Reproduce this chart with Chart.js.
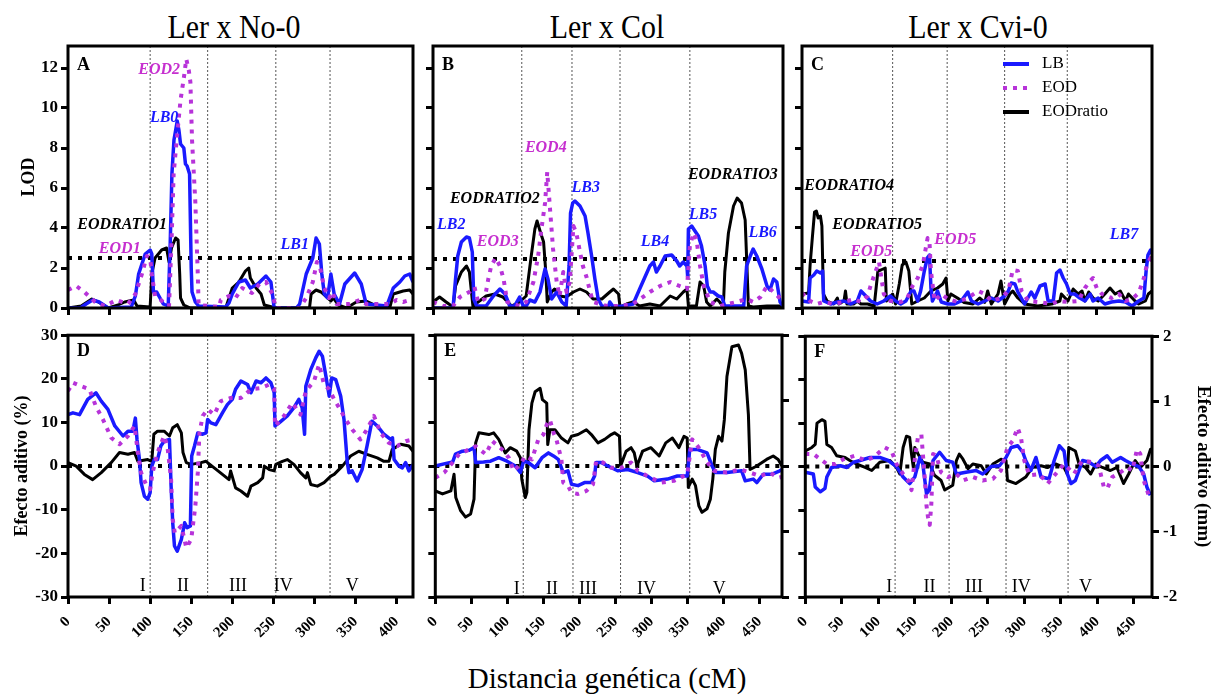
<!DOCTYPE html>
<html lang="es">
<head>
  <meta charset="UTF-8" />
  <title>QTL LOD y efecto aditivo</title>
  <script src="https://cdn.jsdelivr.net/npm/chart.js"></script>
  <style>
    body { margin: 0; background: #fff; }
    #wrap { position: relative; width: 1221px; height: 698px; background: #fff; overflow: hidden; }
    canvas { position: absolute; }
    .ttl { position: absolute; width: 400px; text-align: center; font-family: "Liberation Serif", serif; line-height: 1; color: #000; white-space: nowrap; }
    .col { top: 10px; font-size: 34px; transform: scaleX(0.88); }
  </style>
</head>
<body>
<div id="wrap">
  <div class="ttl col" style="left:34px">Ler x No-0</div>
  <div class="ttl col" style="left:407px">Ler x Col</div>
  <div class="ttl col" style="left:778px">Ler x Cvi-0</div>
  <div class="ttl" style="left:407px;top:664px;font-size:29px">Distancia genética (cM)</div>
  <canvas id="cA" width="421" height="322" style="left:0;top:0"></canvas>
  <canvas id="cB" width="370" height="322" style="left:421px;top:0"></canvas>
  <canvas id="cC" width="430" height="322" style="left:791px;top:0"></canvas>
  <canvas id="cD" width="421" height="376" style="left:0;top:322px"></canvas>
  <canvas id="cE" width="370" height="376" style="left:421px;top:322px"></canvas>
  <canvas id="cF" width="430" height="376" style="left:791px;top:322px"></canvas>
</div>

<script>
  // ---- data: [cM, value] ----
  // Ler x No-0, LOD
  const aLB = [[0,0],[15,0],[22,0.2],[30,0.4],[38,0.3],[49,0],[77,0.05],[82,0.6],[86,1.7],[94,2.7],[100,2.9],[102,2.7],[104,0.8],[108,0.8],[116,0.2],[122,0.1],[124.5,3.3],[126.5,6.7],[129,8.4],[133,9.35],[135,8.9],[137,8.2],[141,8],[143,7.2],[145,7.1],[148,6.7],[150,2],[151,0.8],[155,0.3],[159,0.1],[192,0.05],[196,0.25],[200,0.7],[208,1.3],[216,1.4],[222,1],[231,1.2],[241,1.6],[247,1.3],[251,0],[278,0],[282,0.2],[290,1.7],[298,2.5],[302,3.5],[306,3.2],[309,1.7],[312,0.7],[316,0.5],[320,1.7],[324,0.7],[330.5,0.2],[337,1.2],[349,1.75],[357,1.2],[363,0.2],[388,0.1],[396,1],[404,1.3],[410,1.6],[416,1.7],[420,1.3]];
  const aEOD = [[0,0.9],[10,1.1],[20,0.8],[33,0.3],[45,0.1],[59,0.4],[73,0.2],[82,0.7],[90,1.7],[96,2.6],[100,2.5],[102,1.7],[106,0.6],[118,0.25],[123,0.1],[126,3.3],[128.6,6.7],[133,8.7],[137,10.4],[141,11.5],[144,12.45],[147,11.9],[149,11.3],[151,8.4],[155,5.3],[158,1.7],[159,0.15],[184,0.05],[186,0.4],[196,0.6],[204,0.5],[212,1],[224,0.75],[233,1.2],[241,1.3],[249,0.7],[253,0],[282,0],[290,0.5],[298,1.3],[303,2.3],[307,2],[312,1],[318,0.5],[322,0.8],[327,0.2],[343,0.2],[355,0.4],[363,0.2],[392,0.2],[400,0.4],[408,0.3],[416,0.4],[420,0.35]];
  const aRatio = [[0,0],[16,0.1],[29,0.45],[37,0.3],[49,0],[61,0.15],[69,0.3],[80,0.4],[84,0.1],[100,0.05],[101,0.05],[102,1.7],[106,2.5],[114,2.9],[120,3.0],[123,2.3],[126,3.0],[131,3.5],[134,3.4],[136,1.7],[137,0.5],[141,0.15],[149,0],[192,0],[196,0.5],[200,1],[208,1.3],[216,1.85],[220,2.0],[222,1.5],[229,1],[235,0.7],[239,0.15],[253,0],[294,0],[296,0.7],[302,0.9],[308,0.8],[316,0.5],[320,0.35],[323,0.5],[329,0.15],[339,0],[351,0.3],[363,0.35],[376,0.1],[392,0.05],[396,0.7],[408,0.85],[416,0.9],[420,0.7]];

  // Ler x Col, LOD
  const bLB = [[0,0],[27.5,0],[31,1.45],[34,2.6],[39,3.3],[46,3.55],[50,3.5],[54,2.8],[56,0.45],[60,0.1],[73,0.1],[83,0.6],[92,0.95],[99,0.7],[105.5,0.1],[112,0.1],[119,0.55],[124,0.1],[128,0.1],[133,0.4],[140,0.3],[147,0.8],[154,1.95],[158,1.45],[163,0.45],[170,0.8],[177,0.3],[183,0.1],[187,2.1],[189,4.75],[192,5.25],[195,5.35],[202,5.1],[209,4.6],[213,3.75],[218,2.6],[222.5,1.45],[227,0.45],[232,0.1],[241,0.05],[243,0.3],[248,0.05],[261,0.1],[275,0.2],[284,0.95],[298,2.1],[303,2.3],[307,1.8],[312,2.1],[319,2.6],[328,2.65],[335,2.35],[339,2.1],[344,2.3],[349,2.1],[350,1.55],[351,3.95],[355.5,4.1],[360,3.85],[364.7,3.6],[369,3.1],[374,2.1],[377,1.1],[381,0.8],[385,0.8],[392,0.6],[397,0.55],[401,0.1],[427,0.1],[431,2.1],[436,2.6],[440,2.95],[445,2.6],[452,1.95],[459,1.1],[463,0.9],[468,1.45],[472.5,1.3],[477,0.3],[481,0.1]];
  const bEOD = [[0,0.3],[14,0.1],[27.5,0.1],[37,0.55],[50,0.8],[57,1.05],[62,0.3],[71,0.45],[76,1.45],[80,2.1],[86,2.5],[92,2.1],[97,1.45],[102,0.3],[119,0.1],[128,0.3],[138,1.3],[144.5,2.6],[149,3.95],[154,5.25],[157,6.8],[160.5,5.1],[165,2.95],[170,1.3],[174,0.6],[179,1.8],[183.5,0.8],[188,1.3],[193,4.1],[197,3.75],[202,2.8],[206,2.1],[211,1.55],[216,0.8],[220,0.3],[239,0.1],[257,0.1],[275,0.2],[298,0.8],[312,1.1],[326,1.3],[339,1.1],[349,0.95],[353,3.1],[358,3.75],[362,3.45],[367,2.1],[372,1.1],[381,0.3],[394,0.1],[417,0.3],[431,0.45],[440,0.3],[450,0.55],[459,1.1],[468,0.8],[475,0.55],[481,0.4]];
  const bRatio = [[0,0.3],[9,0.55],[18,0.3],[27.5,0.05],[31,1.1],[39,1.8],[46,2.1],[50,1.8],[55,0.05],[62,0.3],[73,0.6],[85,0.7],[96,0.55],[108,0.1],[119,0.3],[128,0.6],[135,2.6],[140,3.95],[143,4.35],[148,3.75],[152,3.3],[155,1.8],[157,0.3],[163,0.8],[167,0.95],[174,0.6],[183,0.55],[193,0.8],[202,0.95],[211,0.8],[220,0.45],[232,0.45],[243,0.8],[248,0.95],[255,0.7],[257,0.05],[266,0.2],[275,0.3],[284,0.1],[298,0.2],[312,0.1],[326,0.6],[335,0.45],[344,0.8],[349,0.95],[351,0.1],[362,0.1],[367,1.3],[372,1.1],[376,0.3],[381,0.1],[390,0.45],[394,0.3],[399,0.05],[401,1.8],[406,3.75],[413,5.1],[418,5.5],[424,5.25],[429,4.4],[433.5,0.1],[440,0.05],[459,0.1],[481,0.1]];

  // Ler x Cvi-0, LOD
  const cLB = [[0,0.35],[9,0.3],[11,1.5],[16,1.65],[20,1.85],[25,1.75],[28,1.85],[29.5,0.35],[39,0.2],[48,0.3],[57,0.35],[66,0.2],[75,0.35],[80,0.85],[84,0.7],[93,0.35],[102,0.2],[111,0.35],[120,0.6],[127,0.35],[134,0.2],[141,0.35],[148,0.85],[152,0.85],[157,0.35],[161,0.85],[166,1.85],[170,2.5],[173,2.65],[175,1.0],[177,0.35],[184,0.85],[189,0.3],[198,0.2],[207,0.2],[216,0.35],[225,0.8],[230,0.35],[239,0.2],[248,0.35],[257,0.5],[266,0.35],[275,0.6],[280,0.85],[284,1.25],[289,1.2],[293,0.8],[302,0.2],[311,0.8],[316,0.5],[323,1.1],[330,1.2],[334,0.35],[341,0.35],[345.5,1.75],[350,1.9],[354.5,1.5],[359,1.2],[364,0.7],[370,0.7],[377,0.5],[384,0.35],[391,0.7],[395,0.35],[402,0.5],[411,0.2],[420,0.3],[430,0.35],[439,0.3],[448,0.1],[457,0.35],[464,0.5],[467,1.85],[469.5,2.65],[473,2.9],[475,2.7]];
  const cEOD = [[0,0.75],[11,0.35],[20,0.2],[29.5,0.3],[43,0.2],[57,0.3],[70,0.45],[80,0.3],[89,0.6],[93,1.1],[100,1.85],[104.5,2.3],[111,0.7],[120,0.35],[134,0.3],[143,0.5],[150,1.1],[157,1.5],[164,2.15],[168,3.0],[170.5,3.5],[173,3.3],[175,1.85],[180,0.35],[189,0.7],[198,0.45],[211,0.3],[225,0.5],[239,0.85],[248,0.7],[257,0.35],[270,0.5],[280,0.85],[286,1.9],[293,1.85],[298,0.85],[307,0.35],[320,0.3],[339,0.2],[348,0.35],[361,0.3],[375,0.35],[384,1.0],[391,1.35],[395,1.5],[400,1.0],[407,0.7],[420,0.5],[430,0.7],[439,0.35],[448,0.45],[457,0.75],[464,1.5],[468,2.15],[473,2.5],[475,2.4]];
  const cRatio = [[0,0.7],[9,0.75],[11,2.15],[14,3.5],[17,4.8],[19.5,4.85],[22,4.5],[25,4.6],[27,4.1],[29,0.7],[34,0.35],[43,0.2],[48,0.5],[50,0.2],[57,0.35],[59,0.85],[61,0.2],[70,0.2],[75,0.35],[80,0.2],[89,0.2],[98,0.1],[103,1.85],[107,1.9],[113,2.0],[114.5,0.35],[118,0.5],[123,0.7],[127,0.2],[132,1.2],[136,2.15],[141,2.3],[145,1.85],[149,0.2],[157,0.35],[166,0.5],[175,0.85],[184,1.0],[191,1.2],[195.5,1.5],[198,0.35],[202,0.7],[211,0.5],[220,0.28],[232,0.2],[241,0.5],[248,0.28],[252,0.85],[257,0.2],[266,0.7],[270,1.35],[275,0.2],[282,0.7],[286,0.85],[293,0.5],[302,0.2],[320,0.1],[339,0.2],[350,0.35],[352,0.7],[361,0.35],[368,0.95],[375,0.7],[380,0.85],[384,0.35],[389,0.8],[395,0.5],[402,0.35],[411,0.7],[418,1.0],[425,0.7],[432,0.85],[439,0.35],[443,0.7],[452,0.35],[457,0.2],[466,0.35],[470,0.7],[475,0.85]];

  // Ler x No-0, efecto aditivo
  const dLB = [[0,11.8],[6,12.2],[14,11.8],[24,15.3],[34,16.8],[40.5,14.9],[48.6,13],[57,9.2],[67,6.9],[73,8],[79,8],[82,11],[84,6.1],[87,1.5],[89,-3.8],[93,-6.9],[97,-7.6],[100,-6.1],[102,0],[105,1.5],[109,1.5],[113,4.6],[117,5.7],[123.5,6.1],[125.5,-4.6],[127.5,-13],[129.6,-18.3],[133,-19.5],[138,-16.8],[142,-13],[145,-14.1],[149,-13.7],[150.6,2.3],[154,4.6],[158,7.6],[164,7.3],[168,7.6],[170,10.7],[174,9.9],[180,9.5],[188,12.2],[194,14.1],[200,15.3],[204,17.6],[210.5,19.5],[218.6,18.7],[222.7,16.8],[229,19.5],[235,19.1],[241,20.2],[247,19.1],[251,16.8],[252,9.2],[257,9.9],[267,11.5],[275,13.4],[281,15.3],[285,13.4],[288,7.3],[289.5,18.3],[295.5,22.1],[301.6,24.8],[305.7,26.3],[309.7,25.2],[314,20.6],[318,16],[321,20.2],[326,19.8],[332,16],[336,10.7],[340,0.8],[342,-1.5],[346,-1.1],[352,-3.4],[358,-0.8],[364,4.6],[370,10.3],[376.5,9.2],[384.6,7.3],[392.7,6.1],[395,6.5],[397,1.5],[403,0],[407,-0.4],[411,0.8],[415,-1.1],[420,0.4]];
  const dEOD = [[0,17.2],[6,19.1],[16,18.3],[26,17.6],[34,13.7],[42.5,10.7],[52.6,6.5],[62.7,5],[73,6.9],[81,9.2],[85,3.1],[89,-1.5],[95,-4.2],[100,-5.3],[103,-1.5],[109,3.1],[117,6.9],[121,4.6],[125.5,-3],[127.5,-12.2],[130,-15.3],[138,-13.7],[144,-18.7],[150,-16.8],[153,-12.2],[155,-9.2],[158,-1.5],[160,7.6],[164,11.5],[170,13],[178,11.8],[186,14.9],[198,15.6],[210.5,15.6],[222.7,17.6],[235,17.9],[245,18.7],[251,17.6],[252,9.2],[263,11.5],[273,14.5],[283,11.8],[289.5,17.2],[299.6,19.5],[305.7,23.3],[311.7,18.7],[318,17.6],[324,15.3],[330,13.4],[338,10.7],[346,8.4],[356,6.1],[364,8.4],[372.5,11.5],[380.6,7.6],[390.7,5.3],[400.8,4.6],[411,5.7],[420,6.1]];
  const dRatio = [[0,0.8],[10,0],[20,-1.9],[30,-3.1],[40.5,-1.5],[52.6,0.8],[62.7,3.1],[73,2.7],[81,3.1],[85,1.1],[97,1.5],[102,1.1],[104.5,7.3],[109,8],[117,8],[123.5,6.9],[127.5,8.8],[133,9.5],[138,7.6],[140,3.1],[144,0.8],[150,0.4],[162,0.8],[168,1.1],[178,-0.4],[188,-1.9],[196,-3.1],[198,-1.1],[204,-5],[210.5,-5.7],[218.6,-6.9],[222.7,-4.6],[231,-3.8],[237,-2.7],[239,0],[245,-0.8],[251,-1.1],[253,0.4],[261,1.1],[267,1.5],[275,0.4],[283,-1.5],[289.5,-2.7],[291.5,-1.5],[295.5,-4.2],[303.6,-4.6],[311.7,-3.8],[320,-2.3],[324,-1.9],[334,0],[344,2.3],[354,3.4],[364,2.7],[376.5,1.9],[384.6,1.1],[390.7,1.1],[394.7,3.8],[405,5],[415,4.6],[420,3.4]];

  // Ler x Col, efecto aditivo
  const eLB = [[0,0],[15,0.6],[24,0.9],[28,2.7],[37.6,3.4],[47,3.6],[53.7,4.2],[56,0.8],[67,0.9],[76.6,1.1],[88,1.9],[99.5,1.1],[111,0],[118,-1.5],[122.5,1.1],[129,0.8],[138.5,-0.4],[148,1.9],[157,3],[164,2.3],[170.6,1.5],[177.5,-1.5],[184,-1.1],[189,-4.2],[198,-4.5],[207,-3.8],[216.5,-3.8],[221,-2.3],[223,0.8],[230,0.8],[239.4,0],[253,-1.1],[267,-0.8],[280.7,-1.5],[294.5,-2.3],[303.7,-3.4],[322,-3],[335.8,-2.3],[349.5,-2.3],[353,3.8],[363.3,3.8],[377,3],[384,0],[388.5,-1.5],[404.6,-1.5],[425,-1.1],[430,-3.4],[441,-3],[446,-3.8],[455,-1.9],[466.5,-1.9],[478,-1.1],[481,-0.8]];
  const eEOD = [[0,-2.7],[12.4,-1.5],[24,0.8],[33,2.7],[47,3.8],[56,4.5],[70,2.7],[79,5.7],[92.7,3.8],[102,1.9],[108.7,-1.1],[118,0.4],[124.8,2.3],[134,1.5],[143,6.1],[150,7.2],[154.6,9.5],[159,10.6],[164,7.6],[168,6.1],[175,1.5],[177.5,-3.8],[184,-4.5],[189,-6.1],[198,-6.4],[209.6,-5.7],[218.8,-4.2],[223,1.1],[232.6,0.8],[244,-0.4],[257.8,-0.4],[271.6,0.8],[280.7,-1.1],[294.5,-2.3],[312.8,-3.8],[331,-3.4],[349.5,-1.9],[356.4,6.1],[365.6,4.2],[374.8,1.5],[386,-1.1],[404.6,-1.5],[423,-0.8],[436.7,-1.5],[450.5,-2.3],[464,-1.5],[475.7,-2.7],[481,-2.5]];
  const eRatio = [[0,-5.7],[10,-6.4],[21.6,-5.7],[26,-1.9],[28.4,-7.2],[35,-10.2],[42,-11.7],[49,-11],[53.7,-7.6],[56,5.3],[60.5,7.6],[74.3,7.2],[81,7.6],[88,6.1],[97,3],[104,4.2],[113,3.4],[118,1.9],[120,-3],[124.8,-7.2],[127,-6.1],[130,8.3],[134,14.4],[138.5,17],[145.4,17.8],[148.6,15.2],[154.6,14.4],[156,4.9],[159,8.3],[166,8.3],[175,6.4],[184,5.3],[189,6.8],[198,7.2],[209.6,8.3],[216.5,7.2],[225.7,5.3],[234.9,6.1],[244,7.2],[248.6,7.6],[255.5,6.8],[257,0],[264.7,3.4],[271.6,4.2],[276,3],[279.8,0],[287.6,3.4],[299,4.2],[310.6,2.3],[319.7,5.3],[329,6.4],[338,4.2],[345,6.8],[349.5,6.4],[351,-4.9],[356.4,-3],[361,-4.5],[365.6,-9.1],[370,-10.6],[377,-9.8],[381.6,-7.6],[385,-3],[388.5,3.8],[393,6.8],[397.7,5.7],[401,10.6],[404.6,20.5],[411.5,27.3],[420.6,27.7],[425,25.8],[430,22],[434.4,11.7],[436.7,-0.8],[446,0],[459.6,1.5],[468.8,2.3],[475.7,1.5],[481,0]];

  // Ler x Cvi-0, efecto aditivo
  const fLB = [[0,-1.3],[11,-1.7],[13.6,-4.7],[20.5,-5.8],[27,-5],[29.5,-2.4],[36,-0.2],[48,0.2],[57,-0.2],[66,1],[75,1.4],[88.6,2.1],[102,2.1],[113.6,1.4],[125,0],[134,-2.4],[143,-3.9],[150,-2.4],[157,2.1],[161,0.6],[166,-6.2],[170,-5.4],[175,1.4],[184,3.3],[193,1.4],[202,1],[207,-1.7],[220,-1.3],[234,-0.9],[243,-1.7],[254.5,0],[266,0.2],[275,2.1],[282,4.4],[291,4.8],[298,3.3],[302,1.4],[309,-0.9],[316,2.1],[323,-2.4],[334,-2.8],[341,1.4],[348,4.8],[354.5,3.6],[359,-1.7],[364,-3.9],[370,-3.2],[380,1.4],[389,1],[398,0],[404.5,1.4],[413.6,2.5],[420.5,1],[432,2.1],[438.6,1.4],[447.7,0.6],[457,0],[463.6,-1.7],[468,-4.7],[472.7,-6.6]];
  const fEOD = [[0,2.9],[11,2.9],[29.5,0.6],[41,0.6],[52,1.7],[68,2.5],[82,1.4],[93,2.1],[109,4.4],[118,3.6],[125,0.6],[134,-1.7],[141,-3.2],[145.5,-5.4],[150,1.7],[154.5,7],[159,7.4],[163.6,-2.4],[166,-8.9],[168,-11.5],[170.5,-13.4],[172.7,-8.5],[175,2.9],[179.5,2.5],[186,-1.3],[195.5,-2.4],[207,-1.7],[216,-3.2],[229.5,-2.4],[243,-3.2],[257,-2.8],[268,-0.9],[277,4.4],[284,5.9],[291,8.9],[295.5,6.7],[300,1.4],[307,-2],[320.5,-1.7],[332,-3.9],[343,-1.7],[354.5,0.6],[368,-1.7],[379.5,1.4],[393,1],[402,0.2],[409,-4.7],[413.6,-5.1],[420.5,-2.4],[432,-1.3],[441,-0.2],[448,-0.9],[454.5,4],[459,2.9],[463.6,-3.2],[470.5,-6.6]];
  const fRatio = [[0,3.6],[9,4.4],[13.6,5.1],[16,10],[22.7,10.8],[27,10.4],[29.5,5.1],[36,4.4],[43,2.5],[54.5,2.1],[61,1.4],[70,0.6],[82,-0.2],[91,-0.9],[102,1],[116,1.4],[125,-0.2],[129.5,-1.7],[134,4.4],[138.6,7],[143,6.7],[145.5,2.9],[148,-0.2],[150,4.4],[154.5,2.9],[161,1],[170.5,0.6],[177,-2],[186,-3.2],[191,-5.4],[198,-4.7],[202,-4.3],[207,1.4],[211,2.9],[216,1.7],[223,-0.5],[229.5,0.6],[241,0.2],[248,-1.7],[257,0.6],[268,1.7],[275,1.4],[277,-3.2],[288.6,-3.9],[302,-2.4],[311,-0.2],[323,0.2],[332,-0.2],[343,0.6],[354.5,-0.2],[359,-1.7],[361,4.4],[370,3.6],[375,0.6],[384,-0.2],[391,-1.7],[398,0.6],[407,-0.2],[418,-0.9],[427,-0.2],[436,-3.9],[443,-1.7],[452,1.4],[459,-0.2],[468,1.4],[473,4],[475,4]];

  // tick values
  const xTicksA = [0, 50, 100, 150, 200, 250, 300, 350, 400];
  const xTicksBC = [0, 50, 100, 150, 200, 250, 300, 350, 400, 450];
  const yTicksLOD = [0, 2, 4, 6, 8, 10, 12];
  const yTicksEff = [-30, -20, -10, 0, 10, 20, 30];
  const yTicksMm = [-2, -1, 0, 1, 2];

  // chromosome limits (cM), LOD thresholds, map lengths
  const chromA = [100, 170, 253, 319];
  const chromB = [122, 191, 257, 353];
  const chromC = [123, 197, 275, 360];
  const thresholds = [2.5, 2.45, 2.35];
  const mapLen = [420, 481, 475];
  const chromNames = ["I", "II", "III", "IV", "V"];
  const romanA = [91, 140, 207, 262, 346];
  const romanB = [113, 162, 212, 293, 394];
  const romanC = [115, 170, 231, 296, 384];

  // QTL labels: [text, cM, LOD, series]
  const notesA = [["EOD2",111,11.9,"eod"],["LB0",117,9.5,"lb"],["EODRATIO1",66,4.15,"ratio"],["EOD1",63,2.95,"eod"],["LB1",276,3.15,"lb"]];
  const notesB = [["LB2",25,4.15,"lb"],["EOD3",89,3.3,"eod"],["EODRATIO2",85,5.45,"ratio"],["EOD4",155,8.0,"eod"],["LB3",210,6.0,"lb"],["LB4",305,3.3,"lb"],["EODRATIO3",412,6.65,"ratio"],["LB5",371,4.65,"lb"],["LB6",453,3.75,"lb"]];
  const notesC = [["EODRATIO4",64,6.1,"ratio"],["EODRATIO5",102,4.15,"ratio"],["EOD5",94,2.8,"eod"],["EOD5",208,3.4,"eod"],["LB7",437,3.65,"lb"]];

  const FONT = '"Liberation Serif", "Times New Roman", serif';
  const BLUE = "#1a1aff", PURPLE = "#b733d9", BLACK = "#000";
  const TXT = { lb: "#1a1aff", eod: "#c62fcf", ratio: "#000" };

  Chart.defaults.font.family = FONT;
  Chart.defaults.color = "#000";
  Chart.defaults.animation = false;

  const pts = a => a.map(p => ({ x: p[0], y: p[1] }));
  const asTicks = vals => vals.map(v => ({ value: v }));

  const deco = {
    id: "deco",
    afterDatasetsDraw(chart, args, o) {
      const { ctx, chartArea: a } = chart;
      const x = chart.scales.x, y = chart.scales.y;
      ctx.save();
      ctx.strokeStyle = "#000";
      ctx.lineWidth = 3;
      ctx.strokeRect(a.left, a.top, a.right - a.left, a.bottom - a.top);

      ctx.fillStyle = "#000";
      ctx.textBaseline = "middle";
      ctx.textAlign = "left";
      ctx.font = "bold 18px " + FONT;
      ctx.fillText(o.letter, a.left + 9, a.top + o.letterDy);

      ctx.textAlign = "center";
      ctx.font = "bold italic 16px " + FONT;
      (o.notes || []).forEach(n => {
        ctx.fillStyle = TXT[n[3]];
        ctx.fillText(n[0], x.getPixelForValue(n[1]), y.getPixelForValue(n[2]));
      });

      ctx.fillStyle = "#000";
      ctx.font = "18px " + FONT;
      ctx.textBaseline = "alphabetic";
      (o.romans || []).forEach((v, i) => {
        ctx.fillText(chromNames[i], x.getPixelForValue(v), y.getPixelForValue(o.romanY));
      });

      if (o.legend) {
        const items = [["LB", BLUE, [], 4], ["EOD", PURPLE, [4, 6], 4], ["EODratio", BLACK, [], 4]];
        items.forEach((it, i) => {
          const yy = a.top + 18 + i * 24;
          ctx.beginPath();
          ctx.setLineDash(it[2]);
          ctx.lineWidth = it[3];
          ctx.strokeStyle = it[1];
          ctx.moveTo(a.left + 201, yy);
          ctx.lineTo(a.left + 227, yy);
          ctx.stroke();
          ctx.setLineDash([]);
          ctx.fillStyle = "#000";
          ctx.font = "17px " + FONT;
          ctx.textAlign = "left";
          ctx.textBaseline = "middle";
          ctx.fillText(it[0], a.left + 240, yy);
        });
      }
      ctx.restore();
    }
  };

  function panel(id, o) {
    const ds = [];
    o.chrom.forEach(v => ds.push({
      data: [{ x: v, y: o.ymin }, { x: v, y: o.ymax }],
      borderColor: "#555", borderWidth: 1, borderDash: [2, 2], order: 6
    }));
    ds.push({
      data: [{ x: 0, y: o.base }, { x: o.xmax, y: o.base }],
      borderColor: "#000", borderWidth: 4, borderDash: [4, 6], order: 5
    });
    ds.push({ label: "EODratio", data: pts(o.ratio), borderColor: BLACK, borderWidth: 3, order: 3 });
    ds.push({ label: "LB", data: pts(o.lb), borderColor: BLUE, borderWidth: 3.5, order: 2 });
    ds.push({ label: "EOD", data: pts(o.eod), borderColor: PURPLE, borderWidth: 4, borderDash: [4, 6], borderCapStyle: "butt", order: 1 });

    const tickGrid = { drawOnChartArea: false, color: "#000", lineWidth: 3, tickLength: 7 };
    const scales = {
      x: {
        type: "linear", min: 0, max: o.xmax,
        border: { display: false },
        grid: tickGrid,
        ticks: { display: o.xlabels, autoSkip: false, minRotation: 45, maxRotation: 45, padding: 9,
                 font: { size: 15, weight: "bold" } },
        afterBuildTicks: s => { s.ticks = asTicks(o.xticks); },
        afterFit: s => { s.height = o.xh; }
      },
      y: {
        type: "linear", min: o.ymin, max: o.ymax,
        border: { display: false },
        grid: tickGrid,
        ticks: { display: !!o.ytitle, padding: 3, font: { size: 17, weight: "bold" } },
        afterBuildTicks: s => { s.ticks = asTicks(o.yticks); },
        afterFit: s => { s.width = o.yw; },
        title: { display: !!o.ytitle, text: o.ytitle || "", font: { size: 18, weight: "bold" }, padding: { top: o.ytpad || 0 } }
      }
    };
    if (o.mm) {
      scales.y2 = {
        type: "linear", position: "right", min: -2, max: 2,
        border: { display: false },
        grid: tickGrid,
        ticks: { display: o.mm.labels, padding: 4, font: { size: 17, weight: "bold" } },
        afterBuildTicks: s => { s.ticks = asTicks(yTicksMm); },
        afterFit: s => { s.width = o.mm.w; },
        title: { display: o.mm.labels, text: "Efecto aditivo (mm)", font: { size: 19, weight: "bold" }, padding: { top: 7 } }
      };
    }

    new Chart(document.getElementById(id), {
      type: "line",
      data: { datasets: ds },
      options: {
        responsive: false,
        animation: false,
        elements: { point: { radius: 0 }, line: { tension: 0, fill: false, borderJoinStyle: "round" } },
        layout: { padding: o.pad },
        plugins: {
          legend: { display: false },
          tooltip: { enabled: false },
          deco: { letter: o.letter, letterDy: o.letterDy, notes: o.notes, romans: o.romans, romanY: o.romanY, legend: o.legend }
        },
        scales
      },
      plugins: [deco]
    });
  }

  const topRow = { ymin: 0, ymax: 13.1, yticks: yTicksLOD, xh: 14, xlabels: false, letterDy: 19 };
  const botRow = { ymin: -30, ymax: 30, yticks: yTicksEff, xh: 50, xlabels: true, base: 0, letterDy: 16 };

  panel("cA", { ...topRow, lb: aLB, eod: aEOD, ratio: aRatio, chrom: chromA, base: thresholds[0], xmax: mapLen[0], xticks: xTicksA,
    yw: 68, ytitle: "LOD", ytpad: 19, pad: { top: 46, right: 8, left: 0, bottom: 0 }, letter: "A", notes: notesA });
  panel("cB", { ...topRow, lb: bLB, eod: bEOD, ratio: bRatio, chrom: chromB, base: thresholds[1], xmax: mapLen[1], xticks: xTicksBC,
    yw: 12, pad: { top: 46, right: 8, left: 0, bottom: 0 }, letter: "B", notes: notesB });
  panel("cC", { ...topRow, lb: cLB, eod: cEOD, ratio: cRatio, chrom: chromC, base: thresholds[2], xmax: mapLen[2], xticks: xTicksBC,
    yw: 11, pad: { top: 46, right: 69, left: 0, bottom: 0 }, letter: "C", notes: notesC, legend: true });

  panel("cD", { ...botRow, lb: dLB, eod: dEOD, ratio: dRatio, chrom: chromA, xmax: mapLen[0], xticks: xTicksA,
    yw: 68, ytitle: "Efecto aditivo (%)", ytpad: 12, pad: { top: 13, right: 8, left: 0, bottom: 51 }, letter: "D",
    romans: romanA, romanY: -28.6 });
  panel("cE", { ...botRow, lb: eLB, eod: eEOD, ratio: eRatio, chrom: chromB, xmax: mapLen[1], xticks: xTicksBC,
    yw: 12, pad: { top: 13, right: 0, left: 0, bottom: 51 }, letter: "E", mm: { labels: false, w: 9 },
    romans: romanB, romanY: -29.2 });
  panel("cF", { ...botRow, lb: fLB, eod: fEOD, ratio: fRatio, chrom: chromC, xmax: mapLen[2], xticks: xTicksBC,
    yw: 11, pad: { top: 13, right: 0, left: 0, bottom: 51 }, letter: "F", mm: { labels: true, w: 69 },
    romans: romanC, romanY: -28.9 });
</script>
</body>
</html>
